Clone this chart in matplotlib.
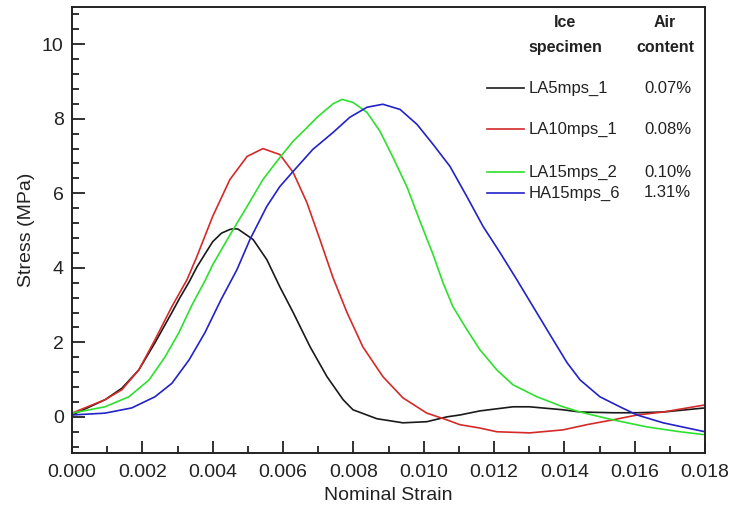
import matplotlib
matplotlib.use("Agg")
import matplotlib.pyplot as plt
from matplotlib.ticker import MultipleLocator, FormatStrFormatter

plt.rcParams['font.family'] = ['Liberation Sans', 'DejaVu Sans']

# ---- data ----
strain_la5 = [0.0, 0.00094, 0.00142, 0.0019, 0.00236, 0.00284, 0.00307, 0.00333, 0.00355, 0.0040,
              0.00425, 0.00449, 0.0046, 0.00472, 0.00515, 0.00554, 0.00591, 0.00629, 0.00677, 0.00725,
              0.00771, 0.00799, 0.00867, 0.00941, 0.01009, 0.01066, 0.01103, 0.0116, 0.01254,
              0.01301, 0.01396, 0.01445, 0.01538, 0.01607, 0.01681, 0.018]
stress_la5 = [0.05, 0.46, 0.77, 1.26, 1.99, 2.8, 3.2, 3.62, 4.02, 4.7,
              4.93, 5.03, 5.05, 5.04, 4.76, 4.22, 3.49, 2.8, 1.88, 1.08,
              0.46, 0.19, -0.05, -0.16, -0.13, 0.0, 0.05, 0.16, 0.27,
              0.27, 0.19, 0.13, 0.11, 0.11, 0.13, 0.24]

strain_la10 = [0.0, 0.00094, 0.00142, 0.0019, 0.00236, 0.00284, 0.00327, 0.00355, 0.004, 0.00449,
               0.00498, 0.00543, 0.00591, 0.00629, 0.00668, 0.00705, 0.00742, 0.00782, 0.00827,
               0.00884, 0.00941, 0.01009, 0.01066, 0.01103, 0.0116, 0.01208, 0.01302, 0.01396,
               0.01464, 0.01538, 0.01607, 0.01681, 0.018]
stress_la10 = [0.1, 0.46, 0.73, 1.26, 2.07, 2.96, 3.68, 4.3, 5.38, 6.37,
               6.99, 7.2, 7.04, 6.56, 5.75, 4.76, 3.74, 2.8, 1.88,
               1.08, 0.51, 0.1, -0.08, -0.21, -0.3, -0.4, -0.43, -0.35,
               -0.21, -0.08, 0.05, 0.13, 0.32]

strain_la15 = [0.0, 0.00094, 0.00162, 0.00219, 0.00264, 0.00304, 0.00341, 0.00378, 0.004, 0.00449,
               0.00498, 0.00543, 0.00591, 0.00629, 0.00668, 0.00697, 0.00742, 0.00768, 0.00799,
               0.00839, 0.00876, 0.00913, 0.00953, 0.0099, 0.01027, 0.01055, 0.01083, 0.01123,
               0.0116, 0.01208, 0.01254, 0.01322, 0.01396, 0.01445, 0.01538, 0.01635, 0.01729, 0.018]
stress_la15 = [0.1, 0.27, 0.54, 0.99, 1.6, 2.26, 3.0, 3.65, 4.08, 4.88,
               5.65, 6.37, 6.96, 7.4, 7.76, 8.04, 8.4, 8.52, 8.44,
               8.17, 7.66, 6.96, 6.16, 5.24, 4.35, 3.6, 2.96, 2.34,
               1.8, 1.26, 0.86, 0.54, 0.27, 0.13, -0.08, -0.27, -0.4, -0.48]

strain_ha15 = [0.0, 0.00094, 0.0017, 0.00236, 0.00284, 0.00333, 0.00378, 0.00424, 0.00469, 0.00506,
               0.00554, 0.00591, 0.00629, 0.00685, 0.00742, 0.0079, 0.00839, 0.00884, 0.00933,
               0.00981, 0.01027, 0.01075, 0.01123, 0.01169, 0.01217, 0.01265, 0.01311, 0.01368,
               0.01408, 0.01445, 0.01501, 0.01558, 0.01607, 0.01681, 0.018]
stress_ha15 = [0.05, 0.1, 0.24, 0.54, 0.9, 1.53, 2.26, 3.15, 3.95, 4.76,
               5.65, 6.18, 6.59, 7.18, 7.63, 8.04, 8.31, 8.39, 8.25,
               7.85, 7.31, 6.72, 5.91, 5.11, 4.41, 3.68, 2.96, 2.07,
               1.45, 0.99, 0.54, 0.27, 0.05, -0.16, -0.4]

specimens = ["LA5mps_1", "LA10mps_1", "LA15mps_2", "HA15mps_6"]
air_content = ["0.07%", "0.08%", "0.10%", "1.31%"]
colors = ["#1a1a1a", "#d42a2a", "#2ee02e", "#2222c8"]

fig = plt.figure(figsize=(7.32, 5.08), dpi=100)
ax = fig.add_axes([72/732, 1-453/508, (705-72)/732, (453-7)/508])

series = [(strain_la5, stress_la5), (strain_la10, stress_la10),
          (strain_la15, stress_la15), (strain_ha15, stress_ha15)]
for (sx, sy), c in zip(series, colors):
    ax.plot(sx, sy, color=c, lw=1.2, solid_joinstyle='round')

ax.set_xlim(0, 0.018)
ax.set_ylim(-0.97, 11.0)
ax.xaxis.set_major_locator(MultipleLocator(0.002))
ax.xaxis.set_minor_locator(MultipleLocator(0.001))
ax.yaxis.set_major_locator(MultipleLocator(2))
ax.yaxis.set_minor_locator(MultipleLocator(0.4))
ax.xaxis.set_major_formatter(FormatStrFormatter('%.3f'))
ax.tick_params(which='both', direction='in', top=False, right=False, width=1.3,
               labelsize=14, colors='#222222')
ax.tick_params(which='major', length=9)
ax.tick_params(which='minor', length=5)
ax.tick_params(axis='x', pad=8)
ax.tick_params(axis='y', pad=6)
for s in ax.spines.values():
    s.set_linewidth(1.4)
    s.set_color('#222222')

ax.set_xlabel("Nominal Strain", fontsize=14, labelpad=4, color='#222222')
ax.set_ylabel("Stress (MPa)", fontsize=14, labelpad=5, color='#222222')

# ---- legend-like table ----
T = ax.transAxes
hdr = dict(transform=T, ha='center', va='center', fontsize=11.5, fontweight='bold', color='#222222')
ax.text(0.779, 0.966, "Ice", **hdr)
ax.text(0.779, 0.910, "specimen", **hdr)
ax.text(0.937, 0.966, "Air", **hdr)
ax.text(0.937, 0.910, "content", **hdr)
row_y = [0.818, 0.726, 0.630, 0.583]
for name, air, c, y in zip(specimens, air_content, colors, row_y):
    ax.plot([0.656, 0.714], [y, y], transform=T, color=c, lw=1.2)
    ax.text(0.722, y, name, transform=T, ha='left', va='center', fontsize=12, color='#222222')
    ax.text(0.978, y, air, transform=T, ha='right', va='center', fontsize=12, color='#222222')

fig.savefig("out.png", dpi=100)
